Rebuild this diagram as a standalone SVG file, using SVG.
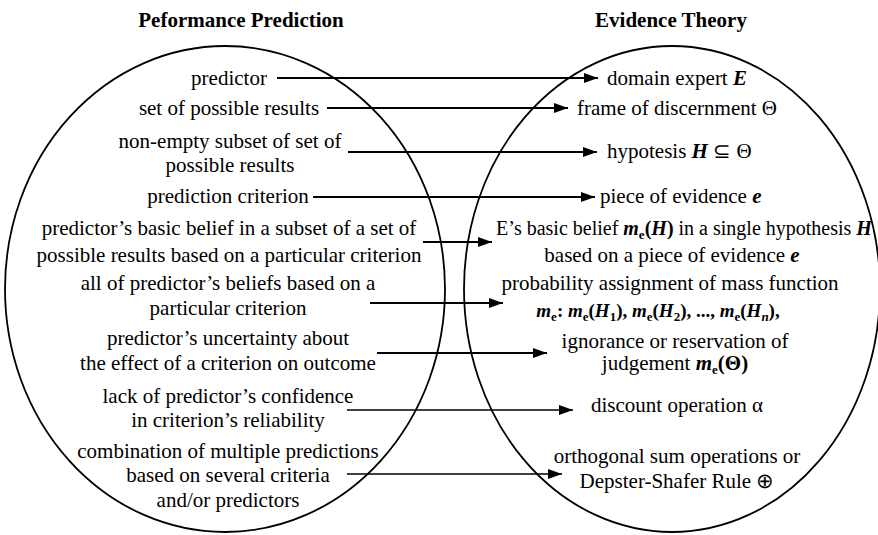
<svg xmlns="http://www.w3.org/2000/svg" width="878" height="535" viewBox="0 0 878 535">
<style>
text{font-family:"Liberation Serif","Times New Roman",serif;font-size:21px;fill:#000}
.t{font-weight:bold;font-size:21px;text-anchor:middle}
.l{text-anchor:middle}
.r{text-anchor:middle}
.b{font-weight:bold}
.i{font-style:italic}
.s{font-size:13px;font-weight:bold;font-style:normal}
.si{font-size:13px;font-weight:bold;font-style:italic}
.ell{fill:none;stroke:#000;stroke-width:1.8}
.c{stroke:#000;stroke-width:2;fill:none;marker-end:url(#ah)}
.c2{stroke:#000;stroke-width:1.4;fill:none;marker-end:url(#ah)}
</style>
<defs>
<marker id="ah" markerUnits="userSpaceOnUse" markerWidth="14" markerHeight="10" refX="14" refY="5" orient="auto">
<path d="M0,0 L14,5 L0,10 Z" fill="#000"/>
</marker>
</defs>
<g id="titles">
<text class="t" x="241" y="27">Peformance Prediction</text>
<text class="t" x="671" y="27">Evidence Theory</text>
</g>
<g id="left-set">
<ellipse class="ell" cx="225" cy="289" rx="220" ry="243"/>
</g>
<g id="right-set">
<ellipse class="ell" cx="672" cy="289" rx="208" ry="243"/>
</g>
<g id="left-items">
<g id="l1"><text class="l" x="229" y="85">predictor</text></g>
<g id="l2"><text class="l" x="229" y="115">set of possible results</text></g>
<g id="l3"><text class="l" x="230" y="148">non-empty subset of set of</text><text class="l" x="230" y="172">possible results</text></g>
<g id="l4"><text class="l" x="228" y="203">prediction criterion</text></g>
<g id="l5"><text class="l" x="229" y="235">predictor’s basic belief in a subset of a set of</text><text class="l" x="229" y="262">possible results based on a particular criterion</text></g>
<g id="l6"><text class="l" x="228" y="290">all of predictor’s beliefs based on a</text><text class="l" x="228" y="315">particular criterion</text></g>
<g id="l7"><text class="l" x="228" y="345">predictor’s uncertainty about</text><text class="l" x="228" y="370">the effect of a criterion on outcome</text></g>
<g id="l8"><text class="l" x="228" y="403">lack of predictor’s confidence</text><text class="l" x="228" y="427">in criterion’s reliability</text></g>
<g id="l9"><text class="l" x="228" y="458">combination of multiple predictions</text><text class="l" x="228" y="482">based on several criteria</text><text class="l" x="228" y="507">and/or predictors</text></g>
</g>
<g id="right-items">
<g id="r1"><text x="607" y="85">domain expert <tspan class="b i">E</tspan></text></g>
<g id="r2"><text x="577" y="115">frame of discernment Θ</text></g>
<g id="r3"><text x="607" y="158">hypotesis <tspan class="b i">H</tspan> ⊆ Θ</text></g>
<g id="r4"><text x="600" y="203">piece of evidence <tspan class="b i">e</tspan></text></g>
<g id="r5"><text class="r" x="684" y="235" style="font-size:20px">E’s basic belief <tspan class="b i">m</tspan><tspan class="s" dy="4">e</tspan><tspan class="b" dy="-4">(</tspan><tspan class="b i">H</tspan><tspan class="b">)</tspan> in a single hypothesis <tspan class="b i">H</tspan></text>
<text class="r" x="672" y="262">based on a piece of evidence <tspan class="b i">e</tspan></text></g>
<g id="r6"><text class="r" x="670" y="290">probability assignment of mass function</text>
<text class="r b" x="658" y="317" style="font-size:19px"><tspan class="i">m</tspan><tspan class="s" dy="4">e</tspan><tspan dy="-4">: </tspan><tspan class="i">m</tspan><tspan class="s" dy="4">e</tspan><tspan dy="-4">(</tspan><tspan class="i">H</tspan><tspan class="s" dy="4">1</tspan><tspan dy="-4">), </tspan><tspan class="i">m</tspan><tspan class="s" dy="4">e</tspan><tspan dy="-4">(</tspan><tspan class="i">H</tspan><tspan class="s" dy="4">2</tspan><tspan dy="-4">), ..., </tspan><tspan class="i">m</tspan><tspan class="s" dy="4">e</tspan><tspan dy="-4">(</tspan><tspan class="i">H</tspan><tspan class="si" dy="4">n</tspan><tspan dy="-4">),</tspan></text></g>
<g id="r7"><text class="r" x="675" y="348">ignorance or reservation of</text>
<text class="r" x="675" y="370">judgement <tspan class="b i">m</tspan><tspan class="s" dy="4">e</tspan><tspan class="b" dy="-4">(Θ)</tspan></text></g>
<g id="r8"><text class="r" x="677" y="412">discount operation α</text></g>
<g id="r9"><text class="r" x="677" y="463">orthogonal sum operations or</text><text class="r" x="677" y="488">Depster-Shafer Rule ⊕</text></g>
</g>
<g id="connectors">
<line class="c" x1="277" y1="78" x2="598" y2="78"/>
<line class="c" x1="327" y1="108" x2="568" y2="108"/>
<line class="c" x1="348" y1="152" x2="597" y2="152"/>
<line class="c" x1="313" y1="197" x2="595" y2="197"/>
<line class="c" x1="423" y1="242" x2="492" y2="242"/>
<line class="c" x1="370" y1="303" x2="503" y2="303"/>
<line class="c" x1="377" y1="353" x2="547" y2="353"/>
<line class="c2" x1="347" y1="410" x2="573" y2="410"/>
<line class="c2" x1="347" y1="474" x2="562" y2="474"/>
</g>
</svg>
